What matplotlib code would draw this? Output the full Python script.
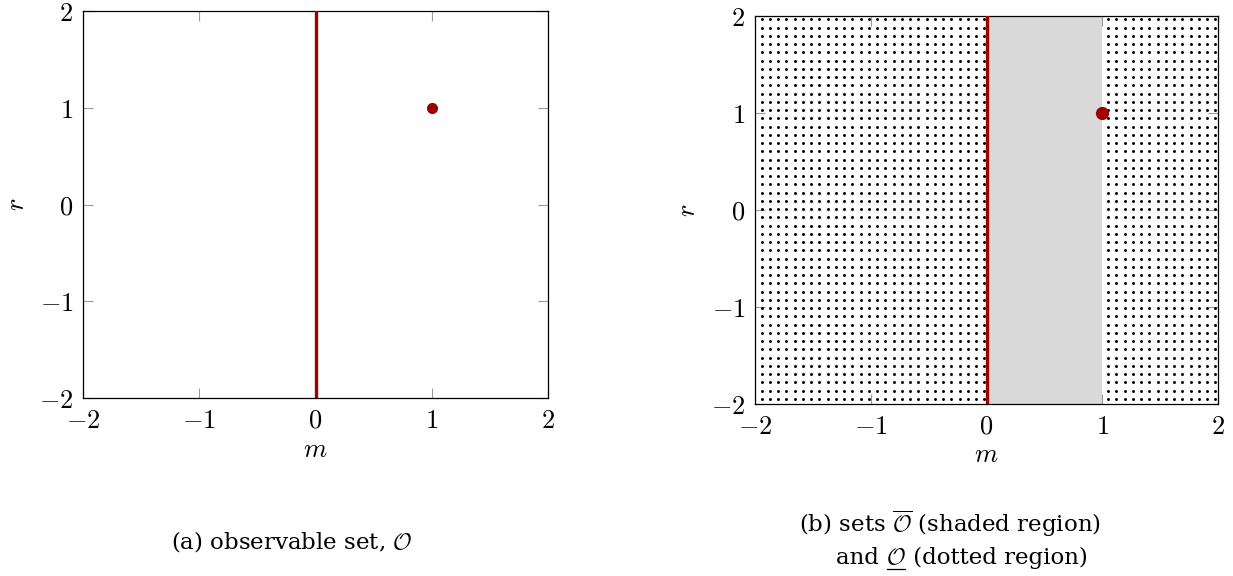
import numpy as np
import matplotlib
matplotlib.use("Agg")
import matplotlib.pyplot as plt
from matplotlib.lines import Line2D

plt.rcParams['mathtext.fontset'] = 'cm'

# ---- data ----
xlim = [-2, 2]
ylim = [-2, 2]
ticks = [-2, -1, 0, 1, 2]
tick_labels = [r'$-2$', r'$-1$', r'$0$', r'$1$', r'$2$']
line_m = 0.0            # vertical red line m = 0
point_m, point_r = 1.0, 1.0
shade_range = [0.0, 1.0]          # shaded region (overline O)
dotted_ranges = [[-2.0, 0.0], [1.0, 2.0]]  # dotted region (underline O)

red = '#a00000'
W, H = 1233, 576
fig = plt.figure(figsize=(W / 100, H / 100), dpi=100)

axL = fig.add_axes([83 / W, 1 - 398 / H, 465 / W, 387 / H])
axR = fig.add_axes([755 / W, 1 - 404 / H, 463 / W, 388 / H])

def style(ax, xlab_y, ylab_x):
    ax.set_xlim(xlim)
    ax.set_ylim(ylim)
    ax.set_xticks(ticks)
    ax.set_xticklabels(tick_labels)
    ax.set_yticks(ticks)
    ax.set_yticklabels(tick_labels)
    ax.tick_params(direction='in', length=7, width=0.8, color='#999999',
                   labelsize=19, top=True, right=True, pad=7)
    for s in ax.spines.values():
        s.set_linewidth(0.9)
        s.set_color('black')
    ax.set_xlabel(r'$m$', fontsize=19)
    ax.set_ylabel(r'$r$', fontsize=19)
    ax.xaxis.set_label_coords(0.5, xlab_y)
    ax.yaxis.set_label_coords(ylab_x, 0.5)
    ax.xaxis.label.set_va('center')
    ax.yaxis.label.set_va('center')

# left panel
style(axL, -(450 - 398) / 387, (17 - 83) / 465)
axL.axvline(line_m, color=red, lw=2.4, zorder=3)
axL.plot([point_m], [point_r], 'o', color=red, ms=7, zorder=4)

# right panel
style(axR, -(455 - 404) / 388, (688 - 755) / 463)
axR.axvspan(shade_range[0], shade_range[1], color='#d9d9d9', lw=0, zorder=1)
# dot pattern (spacing in pixels converted to data units)
px_x = 463 / (xlim[1] - xlim[0])
px_y = 388 / (ylim[1] - ylim[0])
dx = 8.25 / px_x
dy = 8.25 / px_y
gy = np.arange(ylim[1] - 0.4 * dy, ylim[0], -dy)
gx_all = np.arange(xlim[0] + 0.8 * dx, xlim[1], dx)
for lo, hi in dotted_ranges:
    gx = gx_all[(gx_all > lo + 0.005) & (gx_all < hi)]
    X, Y = np.meshgrid(gx, gy)
    axR.scatter(X.ravel(), Y.ravel(), s=4.5, marker='o', color='black',
                linewidths=0, zorder=2)
axR.axvline(line_m, color=red, lw=2.4, zorder=3)
axR.plot([point_m], [point_r], 'o', color=red, ms=8.5, zorder=4)

# captions
cap_font = dict(family='DejaVu Serif', fontsize=16.5)
fig.text(292 / W, 1 - 549 / H, r'(a) observable set, $\mathcal{O}$',
         ha='center', va='baseline', **cap_font)
fig.text(950 / W, 1 - 532 / H, r'(b) sets $\overline{\mathcal{O}}$ (shaded region)',
         ha='center', va='baseline', **cap_font)

# second line with an underlined O, built in pieces
fig.canvas.draw()
r = fig.canvas.get_renderer()
parts = ['and ', r'$\mathcal{O}$', ' (dotted region)']
tmp = [fig.text(0, 0, p, va='baseline', **cap_font) for p in parts]
widths = [t.get_window_extent(r).width for t in tmp]
for t in tmp:
    t.remove()
total = sum(widths)
x0 = 962 - total / 2
ybase = 1 - 564 / H
xs = x0
for p, w in zip(parts, widths):
    t = fig.text(xs / W, ybase, p, va='baseline', ha='left', **cap_font)
    if p.startswith('$'):
        fig.add_artist(Line2D([(xs + 1) / W, (xs + w - 1) / W],
                              [ybase - 5 / H, ybase - 5 / H],
                              color='black', lw=0.9, transform=fig.transFigure))
    xs += w

fig.savefig('out.png', dpi=100)
